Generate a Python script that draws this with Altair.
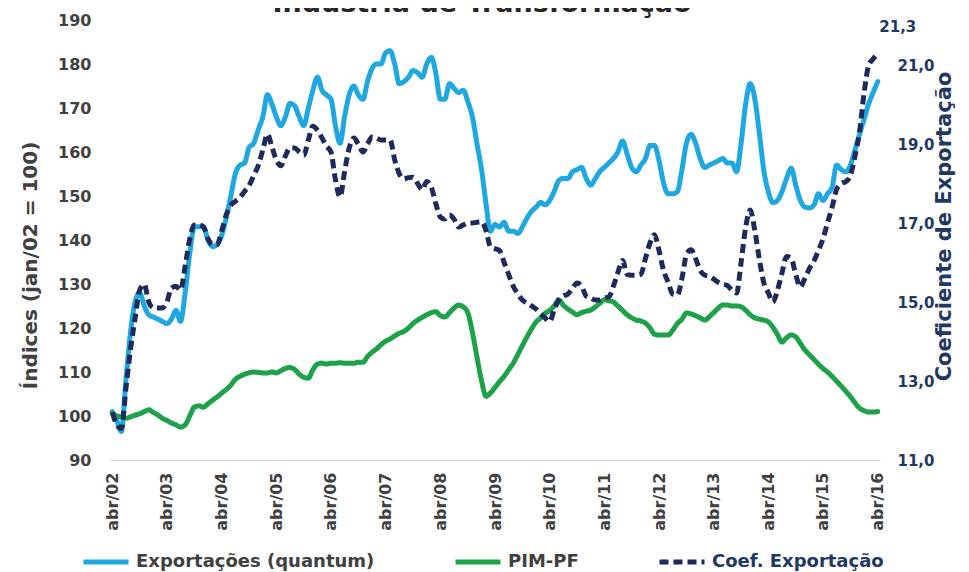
import altair as alt
import pandas as pd

# ---------------- data (monthly, abr/2002 .. abr/2016) ----------------
first_month = "2002-04-01"

exportacoes = [
    101, 99, 96.5, 108, 119, 126, 128, 125, 123, 122.5,
    122, 121.5, 121, 122, 124, 121.5, 128, 137, 143, 143,
    143, 140, 138.5, 139, 141, 145, 150, 155, 157, 157.5,
    161, 162, 165, 168, 173, 171, 168, 166, 168, 171,
    170.5, 168, 166, 170, 174, 177, 174, 173, 172, 166,
    162, 168, 173, 175, 173, 172, 176, 179, 180, 180,
    182.5, 183, 180, 175.5, 176, 177, 178.5, 178, 177, 180,
    181.5, 178, 172, 172, 175.5, 174.5, 173.5, 174, 171.5, 168,
    162, 156, 148, 142, 143.5, 143, 144, 142, 142, 141.5,
    143, 145, 146.5, 147.5, 148.5, 148, 149, 151, 153.5, 154,
    154, 155.5, 156, 156.5, 154, 152.5, 154, 155.5, 156.5, 157.5,
    158.5, 160, 162.5, 159.5, 156.5, 155.5, 157, 158.5, 161.5, 161.5,
    158, 153, 150.5, 150.5, 151, 156, 162, 164, 162, 158.5,
    156.5, 157, 157.5, 158, 158.5, 157.5, 157.5, 155.5, 162, 171,
    175.5, 172, 164, 156, 151, 148.5, 149, 151, 154, 156.3,
    152.5, 149, 147.5, 147.3, 148, 150.5, 149, 150.5, 152, 157,
    156, 155.5, 157, 160.5, 164, 167.5, 171, 173.5, 176,
]

pim_pf = [
    100.7, 100, 99.8, 99.5, 99.8, 100.2, 100.5, 101, 101.4, 100.8,
    100.2, 99.5, 99, 98.4, 98, 97.5, 98, 100, 102, 102.3,
    102, 102.8, 103.6, 104.3, 105.2, 106, 107, 108.3, 109, 109.5,
    109.8, 110, 109.9, 109.8, 109.8, 110, 109.8, 110.3, 110.8, 111,
    110.6, 109.5, 108.8, 108.6, 110.5, 111.8, 112, 111.8, 112, 112,
    112.1, 112, 112, 112, 112.2, 112.2, 113.5, 114.5, 115.3, 116.2,
    117, 117.5, 118.2, 118.8, 119.2, 120, 121, 121.8, 122.4, 123,
    123.5, 123.7, 122.8, 122.5, 123.5, 124.5, 125.2, 124.8, 123.5, 119,
    113.5, 108, 104.5, 105.2, 106.5, 107.8, 109, 110.5, 112, 114,
    116, 118, 119.8, 121.4, 122.3, 123.3, 124, 125, 126.4, 125.2,
    124.3, 123.6, 123, 123.5, 123.8, 124.1, 124.8, 125.6, 126.4, 126.2,
    125.9, 125, 124, 123, 122.3, 121.8, 121.6, 121.1, 120, 118.6,
    118.4, 118.4, 118.4, 119.5, 121, 122, 123.4, 123.2, 122.8, 122.3,
    121.8, 122.5, 123.5, 124.5, 125.2, 125.2, 125, 125, 124.8, 124,
    123, 122.3, 122, 121.8, 121.4, 120.2, 118.5, 116.8, 117.8, 118.4,
    118, 116.5, 115, 113.9, 112.8, 111.8, 110.8, 110, 109, 107.9,
    106.8, 105.6, 104.4, 103, 101.8, 101.2, 100.9, 100.9, 101,
]

coef_exportacao = [
    12.2, 11.9, 11.8, 12.8, 13.8, 14.6, 15.3, 15.45, 15.0, 14.85,
    14.85, 14.85, 15.0, 15.35, 15.4, 15.3, 15.9, 16.6, 16.95, 16.95,
    16.9, 16.6, 16.45, 16.45, 16.8, 17.2, 17.45, 17.55, 17.65, 17.8,
    17.95, 18.2, 18.45, 18.85, 19.25, 18.95, 18.6, 18.45, 18.7, 18.9,
    18.9, 18.8, 18.72, 19.1, 19.45, 19.35, 19.15, 18.95, 18.8, 18.1,
    17.66, 18.3, 18.9, 19.15, 19.0, 18.8, 19.0, 19.18, 19.15, 19.1,
    19.1, 19.1, 18.6, 18.25, 18.12, 18.15, 18.16, 18.0, 17.84, 18.05,
    17.9, 17.5, 17.15, 17.1, 17.2, 17.1, 16.9, 16.95, 17.0, 17.0,
    17.02, 17.03, 16.8, 16.4, 16.35, 16.3, 16.0, 15.7, 15.4, 15.2,
    15.05, 14.97, 14.9, 14.82, 14.7, 14.6, 14.5, 14.8, 15.05, 15.15,
    15.2, 15.35, 15.48, 15.4, 15.15, 15.1, 15.05, 15.05, 15.1, 15.13,
    15.4, 15.75, 16.05, 15.7, 15.68, 15.68, 15.7, 16.1, 16.5, 16.7,
    16.3, 15.8, 15.5, 15.2, 15.18, 15.6, 16.2, 16.32, 16.1, 15.8,
    15.68, 15.65, 15.58, 15.5, 15.45, 15.42, 15.3, 15.23, 16.0, 16.9,
    17.33, 16.8, 16.06, 15.5, 15.23, 15.0, 15.3, 15.73, 16.15, 16.1,
    15.7, 15.38, 15.6, 15.85, 16.05, 16.3, 16.6, 17.0, 17.4, 17.85,
    18.0, 18.05, 18.2, 18.7, 19.3, 20.3, 21.0, 21.15, 21.3,
]

series_names = ["Exportações (quantum)", "PIM-PF", "Coef. Exportação"]
series_colors = ["#1FA7E1", "#1DA24A", "#1F2A5C"]
tick_years = list(range(2002, 2017))
left_ticks = list(range(90, 191, 10))
right_ticks = [11, 13, 15, 17, 19, 21]
title_text = "Indústria de Transformação"

# ---------------- build table ----------------
months = pd.date_range(first_month, periods=len(exportacoes), freq="MS")
frames = []
for name, vals in zip(series_names, [exportacoes, pim_pf, coef_exportacao]):
    frames.append(pd.DataFrame({"mes": months, "serie": name, "valor": vals}))
df = pd.concat(frames, ignore_index=True)
df["mes"] = df["mes"].dt.strftime("%Y-%m-%dT00:00:00")

label_df = pd.DataFrame({
    "mes": [months[-1].strftime("%Y-%m-%dT00:00:00")],
    "valor": [coef_exportacao[-1]],
    "rotulo": [f"{coef_exportacao[-1]:.1f}".replace(".", ",")],
})

FONT = "DejaVu Sans"
GRAY = "#404040"
NAVY = "#1F3864"

x_enc = alt.X(
    "mes:T",
    scale=alt.Scale(domain=[alt.DateTime(year=2002, month=3, date=17),
                            alt.DateTime(year=2016, month=4, date=16)]),
    axis=alt.Axis(
        values=[alt.DateTime(year=y, month=4, date=1) for y in tick_years],
        labelExpr="'abr/' + timeFormat(datum.value, '%y')",
        labelAngle=-90, labelPadding=12, ticks=False, grid=False,
        domainColor="#D9D9D9", domainWidth=1,
        labelFont=FONT, labelFontSize=16, labelFontWeight="bold", labelColor=GRAY,
        labelOverlap=False, labelBound=False, labelFlush=False, title=None,
    ),
)

legend = alt.Legend(
    title=None, orient="none", legendX=-29, legendY=517, direction="horizontal",
    columnPadding=70, symbolType="stroke", symbolSize=2025, padding=0,
    labelFont=FONT, labelFontSize=18, labelFontWeight="bold",
    labelColor=alt.ExprRef("datum.value == 'Coef. Exportação' ? '#1F3864' : '#404040'"),
    labelLimit=400, labelOffset=5,
)
color = alt.Color("serie:N", scale=alt.Scale(domain=series_names, range=series_colors), legend=legend)
dash = alt.StrokeDash("serie:N", scale=alt.Scale(domain=series_names, range=[[1, 0], [1, 0], [9, 5]]), legend=legend)
swidth = alt.StrokeWidth("serie:N", scale=alt.Scale(domain=series_names, range=[5, 5, 2.8]), legend=legend)

y_left = alt.Y(
    "valor:Q",
    scale=alt.Scale(domain=[90, 190], nice=False, zero=False),
    axis=alt.Axis(
        values=left_ticks, ticks=False, domain=False, grid=False, labelPadding=19,
        labelFont=FONT, labelFontSize=16, labelFontWeight="bold", labelColor=GRAY,
        title="Índices (jan/02 = 100)", titleFont=FONT, titleFontSize=20, titleFontWeight="bold",
        titleColor=GRAY, titleAngle=270, titleX=-80, titleY=245, titleBaseline="middle", titleAlign="center",
    ),
)
y_right = alt.Y(
    "valor:Q",
    scale=alt.Scale(domain=[11, 22.14], nice=False, zero=False),
    axis=alt.Axis(
        orient="right", values=right_ticks, ticks=False, domain=False, grid=False, labelPadding=17,
        labelExpr="replace(format(datum.value, '.1f'), '.', ',')",
        labelFont=FONT, labelFontSize=15, labelFontWeight="bold", labelColor=NAVY,
        title="Coeficiente de Exportação", titleFont=FONT, titleFontSize=21, titleFontWeight="bold",
        titleColor=NAVY, titleAngle=270, titleX=64, titleY=206, titleBaseline="middle", titleAlign="center",
    ),
)

left = alt.Chart(df).transform_filter(
    alt.FieldOneOfPredicate(field="serie", oneOf=series_names[:2])
).mark_line(interpolate="monotone", strokeCap="round", strokeJoin="round").encode(
    x=x_enc, y=y_left, color=color, strokeDash=dash, strokeWidth=swidth
)

right_line = alt.Chart(df).transform_filter(
    alt.FieldEqualPredicate(field="serie", equal=series_names[2])
).mark_line(interpolate="monotone", strokeJoin="round").encode(
    x=x_enc, y=y_right, color=color, strokeDash=dash, strokeWidth=swidth
)
right_label = alt.Chart(label_df).mark_text(
    dx=20, dy=-26, font=FONT, fontSize=15, fontWeight="bold", color=NAVY
).encode(x=x_enc, y=y_right, text="rotulo:N")
right = alt.layer(right_line, right_label)

title_layer = alt.Chart(pd.DataFrame({"t": [title_text]})).mark_text(
    font=FONT, fontSize=27, fontWeight="bold", color="#262626", baseline="alphabetic", align="center"
).encode(x=alt.value(372), y=alt.value(-8), text="t:N")

chart = alt.layer(left, right, title_layer).resolve_scale(y="independent").properties(
    width=770, height=440,
    autosize=alt.AutoSizeParams(type="none"),
    padding={"left": 102, "top": 12, "right": 81, "bottom": 112},
).configure_view(stroke=None)

chart.save("out.html", embed_options={"renderer": "svg", "actions": False})
